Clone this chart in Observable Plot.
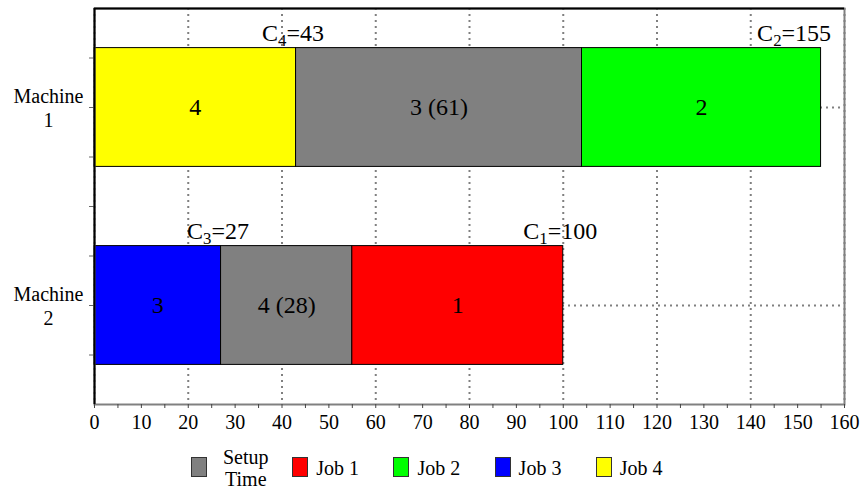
<!DOCTYPE html>
<html>
<head>
<meta charset="utf-8">
<script src="https://cdn.jsdelivr.net/npm/d3@7"></script>
<script src="https://cdn.jsdelivr.net/npm/@observablehq/plot@0.6"></script>
<style>
  body { margin: 0; background: white; }
  #legend { position: relative; height: 46px; font-family: "Liberation Serif", serif; font-size: 20px; color: black; }
  .item { position: absolute; top: 0; display: flex; align-items: center; height: 46px; }
  .sw { width: 16px; height: 20px; border: 1px solid #333; box-sizing: border-box; margin-top: -2px; }
  .lab { line-height: 22px; text-align: center; }
</style>
</head>
<body>
<div id="chart"></div>
<div id="legend"></div>
<script>
// ---- data ----
const machines = ["Machine 1", "Machine 2"];
const segMachine = [0, 0, 0, 1, 1, 1];
const segKind = ["Job 4", "Setup Time", "Job 2", "Job 3", "Setup Time", "Job 1"];
const segLabel = ["4", "3 (61)", "2", "3", "4 (28)", "1"];
const segStart = [0, 43, 104, 0, 27, 55];
const segEnd = [43, 104, 155, 27, 55, 100];
const legendKinds = ["Setup Time", "Job 1", "Job 2", "Job 3", "Job 4"];
const legendColors = ["#808080", "#ff0000", "#00ff00", "#0000ff", "#ffff00"];
const xTicks = d3.range(0, 161, 10);

// ---- build ----
const colorOf = Object.fromEntries(legendKinds.map((k, i) => [k, legendColors[i]]));
const segs = segStart.map((s, i) => ({
  machine: segMachine[i], kind: segKind[i], label: segLabel[i], start: s, end: segEnd[i]
}));
const yc = d => 2 + 4 * d.machine;
const half = 1.2;
const comps = segs.filter(d => d.kind.startsWith("Job"))
  .map(d => ({machine: d.machine, job: d.kind.split(" ")[1], time: d.end, text: "C" + d.kind.split(" ")[1] + "=" + d.end}));
const compsMid = comps.filter(d => d.time <= 150);
const compsEdge = comps.filter(d => d.time > 150);

const dotted = {stroke: "#808080", strokeOpacity: 1, strokeWidth: 2, strokeDasharray: "2,4"};
const compOpts = {x: "time", y: d => yc(d) - half, text: "text", fontSize: 24, lineAnchor: "bottom"};

const chart = Plot.plot({
  width: 863,
  height: 445,
  marginLeft: 94,
  marginRight: 19,
  marginTop: 8,
  marginBottom: 41,
  style: {fontFamily: "Liberation Serif, serif", fontSize: "20px", color: "black", background: "white"},
  x: {domain: [0, 160]},
  y: {domain: [0, 8], reverse: true},
  marks: [
    Plot.gridX(d3.range(0, 161, 20), dotted),
    Plot.gridY([2, 6], dotted),
    Plot.rect(segs, {
      x1: "start", x2: "end",
      y1: d => yc(d) - half, y2: d => yc(d) + half,
      fill: d => colorOf[d.kind], stroke: "black", strokeWidth: 1
    }),
    Plot.text(segs, {x: d => (d.start + d.end) / 2, y: yc, text: "label", fontSize: 24}),
    Plot.text(compsMid, {...compOpts, textAnchor: "middle", dx: -3, dy: -7}),
    Plot.text(compsEdge, {...compOpts, textAnchor: "end", dx: 10, dy: -7}),
    Plot.frame({stroke: "#808080", strokeWidth: 2}),
    Plot.axisX({ticks: d3.range(5, 160, 10), tickFormat: () => "", tickSize: 4, stroke: "#444"}),
    Plot.axisX({ticks: xTicks, tickSize: 4, tickPadding: 6, fontSize: 20, stroke: "#444"}),
    Plot.axisY({ticks: d3.range(1, 8), tickFormat: () => "", tickSize: 5, stroke: "#666"}),
    Plot.axisY({ticks: [2, 6], tickSize: 0, tickPadding: 46, textAnchor: "middle", lineHeight: 1.2,
      tickFormat: v => machines[(v - 2) / 4].replace(" ", "\n")}),
    Plot.ruleX([0], {stroke: "black", strokeWidth: 2}),
    Plot.ruleY([0], {stroke: "black", strokeWidth: 2})
  ]
});
document.getElementById("chart").appendChild(chart);

// subscripts for completion labels
d3.select(chart).selectAll("text").each(function() {
  const t = this.textContent;
  const m = /^C(\d)=(\d+)$/.exec(t);
  if (!m) return;
  const sel = d3.select(this);
  sel.text(null);
  sel.append("tspan").text("C");
  sel.append("tspan").attr("dy", "0.3em").attr("font-size", "0.7em").text(m[1]);
  sel.append("tspan").attr("dy", "-0.21em").text("=" + m[2]);
});

// legend
const legend = d3.select("#legend");
legendKinds.forEach((k, i) => {
  const item = legend.append("div").attr("class", "item").style("left", (191 + i * 101.2) + "px");
  item.append("div").attr("class", "sw").style("background", legendColors[i]);
  item.append("div").attr("class", "lab")
    .style("margin-left", k === "Setup Time" ? "16px" : "8px")
    .html(k === "Setup Time" ? "Setup<br>Time" : k);
});
</script>
</body>
</html>
